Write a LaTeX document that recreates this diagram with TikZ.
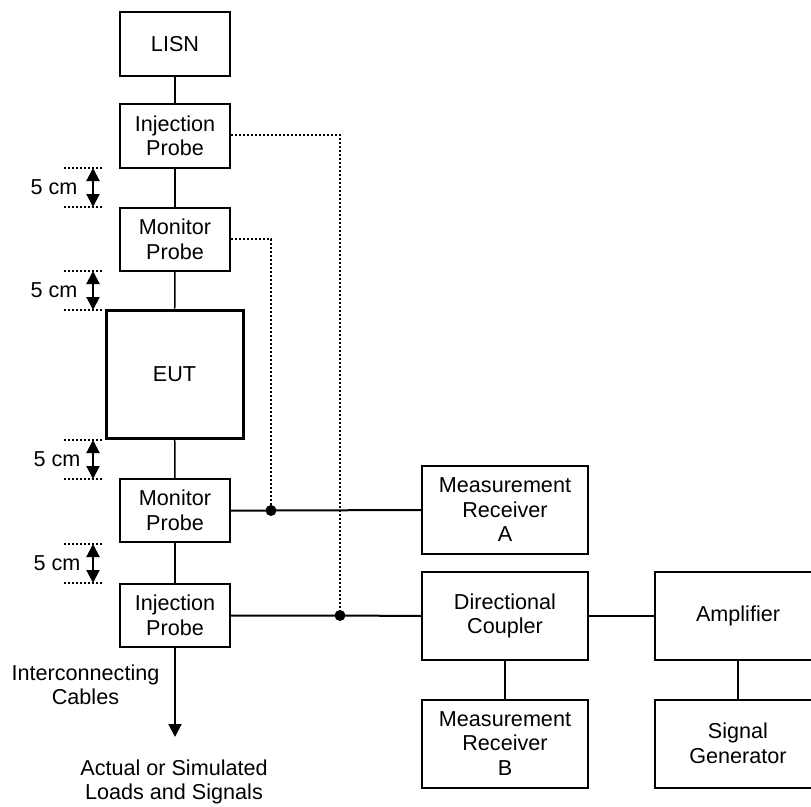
\documentclass[tikz,border=0pt]{standalone}
\usepackage{fontspec}
\setmainfont{Liberation Sans}
\usetikzlibrary{arrows.meta}
\begin{document}
\begin{tikzpicture}[x=1bp,y=-1bp,
  every node/.style={font=\fontsize{21.6bp}{24.5bp}\selectfont, align=center, inner sep=0pt},
  probe/.style={draw, line width=1.5bp, minimum width=110bp, minimum height=63bp},
  unit/.style={draw, line width=2bp, minimum width=166bp, minimum height=88bp},
  eutbox/.style={draw, line width=3bp, minimum width=137bp, minimum height=128bp},
  thin/.style={line width=1.5bp},
  bus/.style={line width=2bp},
  tap/.style={line width=1.4bp, dash pattern=on 2bp off 2bp},
  dimline/.style={line width=1.4bp, dash pattern=on 2bp off 2bp},
  dimarrow/.style={line width=2bp, {Triangle[width=13bp,length=13bp]}-{Triangle[width=13bp,length=13bp]}},
  outarrow/.style={line width=2bp, -{Triangle[width=13bp,length=13bp]}}]
\useasboundingbox (0,0) rectangle (811,807);

% chain of probes around the equipment under test
\node[probe, minimum height=64bp] (lisn) at (175,44) {LISN};
\node[probe, minimum height=64bp] (ip1) at (175,136) {Injection\\Probe};
\node[probe] (mp1) at (175,239.5) {Monitor\\Probe};
\node[eutbox] (eut) at (174.5,374) {EUT};
\node[probe] (mp2) at (175,510.5) {Monitor\\Probe};
\node[probe] (ip2) at (175,615.5) {Injection\\Probe};

% instruments
\node[unit] (mra) at (505,510) {Measurement\\Receiver\\A};
\node[unit] (dc) at (505,616) {Directional\\Coupler};
\node[unit] (mrb) at (505,743.5) {Measurement\\Receiver\\B};
\node[unit] (amp) at (738,616) {Amplifier};
\node[unit] (sg) at (738,743.5) {Signal\\Generator};

% cable run
\draw[thin] (lisn) -- (ip1);
\draw[thin] (ip1) -- (mp1);
\draw[thin] (mp1) -- (eut);
\draw[thin] (eut) -- (mp2);
\draw[thin] (mp2) -- (ip2);

% junctions of the tapped lines
\coordinate (j1) at (271,510.5);
\coordinate (j2) at (340,615.5);

% measurement and drive lines
\draw[bus] (mp2.east) -- (j1) -- (mra.west);
\draw[bus] (ip2.east) -- (j2) -- (dc.west);
\draw[bus] (dc) -- (amp);
\draw[bus] (dc) -- (mrb);
\draw[bus] (amp) -- (sg);

% dotted taps from the upper probes
\draw[tap] (mp1.east |- 0,239) -- (271,239) -- (j1);
\draw[tap] (ip1.east |- 0,135) -- (340,135) -- (j2);
\fill (j1) circle[radius=5.5bp];
\fill (j2) circle[radius=5.5bp];

% output towards loads
\coordinate (load) at (175,737);
\draw[outarrow] (ip2.south) -- (load);
\node (cables) at (85.5,685) {Interconnecting\\Cables};
\node (loads) at (174,782) {Actual or Simulated\\Loads and Signals};

% 5 cm spacing marks
\foreach \ya/\yb/\tx [count=\i] in {168/207/54, 271/310/54, 440/479/57, 544/583/57}{
  \coordinate (da\i) at (64,\ya);
  \coordinate (db\i) at (64,\yb);
  \draw[dimline] (da\i) -- ++(40,0);
  \draw[dimline] (db\i) -- ++(40,0);
  \draw[dimarrow] ([xshift=29bp]da\i) -- ([xshift=29bp]db\i);
  \node (dt\i) at (\tx,{(\ya+\yb)/2}) {5 cm};
}
\end{tikzpicture}
\end{document}
